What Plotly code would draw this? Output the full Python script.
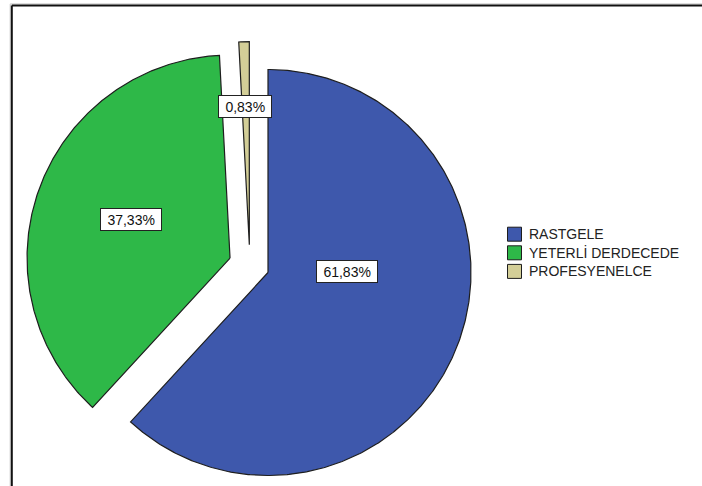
import numpy as np
import plotly.graph_objects as go

# ---- data -------------------------------------------------------------
categories = ["RASTGELE", "YETERLİ DERDECEDE", "PROFESYENELCE"]
percentages = [61.83, 37.33, 0.83]

# ---- styling ----------------------------------------------------------
colors = ["#3E58AC", "#2EB848", "#D3CE97"]
edge_color = "#1e1e1e"
font_family = "Arial, Liberation Sans, sans-serif"

W, H = 702, 486          # figure size in px
R_PX = 203               # pie radius in px
CX, CY = 268, 272.5      # pie centre in px (from top-left)

# slice explosion offsets, in units of the radius (x right, y up)
explode = [(0.0, 0.0), (-0.187, 0.071), (-0.092, 0.137)]
# value label centres, in units of the radius relative to pie centre
label_pos = [(0.387, 0.005), (-0.675, 0.259), (-0.111, 0.818)]


def px_x(px):
    return px / W


def px_y(py):
    return 1 - py / H


fig = go.Figure()

# ---- exploded pie built from filled wedges (clockwise from 12 o'clock) --
total = sum(percentages)
start = 0.0
for name, pct, col, (dx, dy) in zip(categories, percentages, colors, explode):
    sweep = pct / total * 360.0
    n = max(int(sweep * 2), 2) + 1
    th = np.radians(np.linspace(start, start + sweep, n))
    xs = np.concatenate([[dx], dx + np.sin(th), [dx]])
    ys = np.concatenate([[dy], dy + np.cos(th), [dy]])
    fig.add_trace(go.Scatter(
        x=xs, y=ys, mode="lines", fill="toself", fillcolor=col,
        line=dict(color=edge_color, width=1.2),
        name=name, showlegend=False, hoveron="fills", hoverinfo="name",
    ))
    start += sweep

# ---- value labels in boxed annotations --------------------------------
for pct, (lx, ly) in zip(percentages, label_pos):
    txt = f"{pct:.2f}".replace(".", ",") + "%"
    fig.add_annotation(
        x=lx, y=ly, xref="x", yref="y", showarrow=False,
        text="\u00a0" + txt + "\u00a0",
        font=dict(family=font_family, size=14, color="#111111"),
        bgcolor="white", bordercolor="#222222", borderwidth=1, borderpad=2.5,
    )

# ---- legend (swatch + name) -------------------------------------------
LEG_X0, LEG_SW = 507.5, 14
LEG_Y0, LEG_STEP = 234.2, 18.6
for i, (name, col) in enumerate(zip(categories, colors)):
    yc = LEG_Y0 + i * LEG_STEP
    fig.add_shape(
        type="rect", xref="paper", yref="paper",
        x0=px_x(LEG_X0), x1=px_x(LEG_X0 + LEG_SW),
        y0=px_y(yc + LEG_SW / 2), y1=px_y(yc - LEG_SW / 2),
        fillcolor=col, line=dict(color=edge_color, width=1),
    )
    fig.add_annotation(
        x=px_x(LEG_X0 + LEG_SW + 5), y=px_y(yc), xref="paper", yref="paper",
        xanchor="left", yanchor="middle", showarrow=False, text=name,
        font=dict(family=font_family, size=14, color="#222222"),
    )

# ---- outer frame: only the top and left edges fall inside the view -----
for (x_px, y_px, col, lw) in [(10.2, 3.9, "#c8c8c8", 1), (11.8, 5.4, "#111111", 2)]:
    fig.add_shape(type="line", xref="paper", yref="paper",
                  x0=px_x(x_px), x1=1.0, y0=px_y(y_px), y1=px_y(y_px),
                  line=dict(color=col, width=lw), layer="above")
    fig.add_shape(type="line", xref="paper", yref="paper",
                  x0=px_x(x_px), x1=px_x(x_px), y0=0.0, y1=px_y(y_px),
                  line=dict(color=col, width=lw), layer="above")

fig.update_xaxes(range=[-CX / R_PX, (W - CX) / R_PX], visible=False, fixedrange=True)
fig.update_yaxes(range=[-(H - CY) / R_PX, CY / R_PX], visible=False, fixedrange=True)
fig.update_layout(
    width=W, height=H,
    margin=dict(l=0, r=0, t=0, b=0),
    paper_bgcolor="white", plot_bgcolor="white",
    showlegend=False,
)

fig.write_html("out.html")
